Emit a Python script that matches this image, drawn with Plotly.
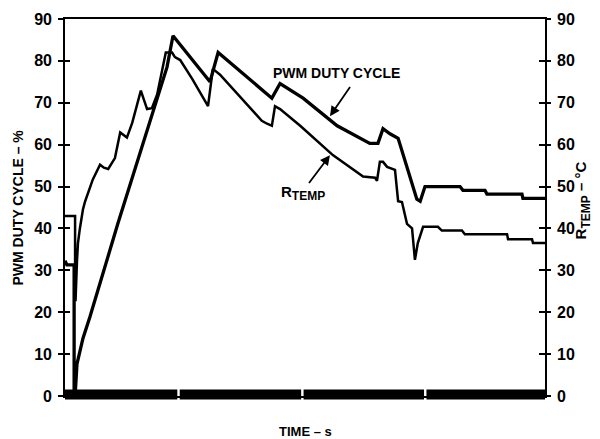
import plotly.graph_objects as go

# PWM duty cycle (%) versus time
pwm_time = [0, 0.4, 1.9, 1.9, 2.1, 2.5, 3.75, 5.2, 11.0, 21.25, 22.5, 30.2, 31.9,
            43.1, 44.8, 49.6, 56.7, 63.5, 65.2, 66.25, 67.7, 69.4, 73.3, 74.0,
            75.0, 82.3, 82.9, 87.5, 87.9, 95.2, 95.4, 100]
pwm_duty = [32.3, 31.3, 31.3, 0, 0, 7.7, 13.8, 18.9, 41.1, 78.5, 86.0, 75.0, 82.0,
            71.1, 74.6, 71.1, 64.5, 60.3, 60.3, 63.8, 62.6, 61.5, 47.0, 46.5,
            50.0, 50.0, 49.1, 49.1, 48.2, 48.2, 47.2, 47.2]

# Remote temperature (°C) versus time
rtemp_time = [0, 2.1, 2.1, 2.2, 2.5, 2.7, 3.1, 3.75, 4.2, 5.8, 7.3, 8.1, 9.0, 10.4,
              11.5, 12.9, 14.0, 15.8, 17.1, 18.1, 19.2, 20.4, 21.0, 22.3, 22.9,
              24.0, 26.5, 29.8, 30.8, 32.3, 41.0, 42.1, 43.1, 43.75, 44.8, 49.0,
              55.8, 62.1, 64.6, 65.0, 65.6, 66.25, 67.1, 68.75, 69.4, 70.2, 71.25,
              72.3, 72.9, 73.5, 74.4, 74.6, 77.7, 78.5, 82.7, 83.3, 92.1, 92.3,
              97.3, 97.5, 100]
rtemp_value = [43.0, 43.0, 22.9, 22.9, 32.3, 36.5, 40.0, 44.6, 46.5, 51.7, 55.2, 54.5,
               54.2, 56.8, 62.9, 61.7, 65.2, 72.9, 68.5, 68.7, 72.0, 78.5, 82.0,
               82.0, 80.9, 80.2, 75.7, 69.2, 78.1, 76.7, 65.7, 65.0, 64.5, 69.2,
               68.5, 64.5, 57.5, 52.4, 52.1, 51.4, 55.9, 55.9, 54.7, 54.0, 46.5,
               46.3, 41.1, 40.0, 32.5, 36.5, 39.5, 40.4, 40.4, 39.5, 39.5, 38.6,
               38.6, 37.4, 37.4, 36.5, 36.5]

# Time-base bar segments along the bottom of the plot
time_segments = [(0, 23.4), (23.9, 49.2), (49.7, 74.8), (75.3, 100)]

y_ticks = [0, 10, 20, 30, 40, 50, 60, 70, 80, 90]
y_tick_labels = [f"<span style='font-weight:900'>{v}</span>" for v in y_ticks]

FONT = "Liberation Sans"
tick_font = dict(family=FONT, size=16, color="black", weight=700)

fig = go.Figure()

fig.add_trace(go.Scatter(x=pwm_time, y=pwm_duty, mode="lines",
                         line=dict(color="black", width=3.3),
                         name="PWM DUTY CYCLE", showlegend=False))
fig.add_trace(go.Scatter(x=rtemp_time, y=rtemp_value, mode="lines",
                         line=dict(color="black", width=2.5),
                         name="RTEMP", showlegend=False, yaxis="y2"))

shapes = []
for x0, x1 in time_segments:
    shapes.append(dict(type="line", xref="x", yref="paper", x0=x0, x1=x1,
                       y0=0.004, y1=0.004, line=dict(color="black", width=10)))

axis_common = dict(range=[0, 90], tickvals=y_ticks, ticktext=y_tick_labels,
                   showgrid=False, zeroline=False, linecolor="black",
                   linewidth=1.6, tickcolor="black", tickwidth=1.6)

fig.update_layout(
    width=600, height=439,
    margin=dict(l=65, r=55, t=11, b=43),
    paper_bgcolor="white", plot_bgcolor="white",
    showlegend=False,
    xaxis=dict(range=[0, 100], showgrid=False, zeroline=False,
               showticklabels=False, ticks="", showline=True, mirror=True,
               linecolor="black", linewidth=1.6),
    yaxis=dict(**axis_common, side="left", showline=True, ticks="outside",
               ticklen=5, tickfont=tick_font, ticklabelstandoff=3),
    yaxis2=dict(**axis_common, side="right", overlaying="y", anchor="x",
                showline=True, ticks="outside", ticklen=4, tickfont=tick_font,
                ticklabelstandoff=3),
    yaxis3=dict(**axis_common, side="left", overlaying="y", anchor="x",
                showline=False, ticks="inside", ticklen=5, showticklabels=False),
    yaxis4=dict(**axis_common, side="right", overlaying="y", anchor="x",
                showline=False, ticks="inside", ticklen=6, showticklabels=False),
    shapes=shapes,
)

# invisible traces to bring the tick-only overlay axes into the figure
fig.add_trace(go.Scatter(x=[None], y=[None], yaxis="y3", showlegend=False))
fig.add_trace(go.Scatter(x=[None], y=[None], yaxis="y4", showlegend=False))

title_font = dict(family=FONT, size=14, color="black")
label_font = dict(family=FONT, size=14, color="black")
SUB = "<sub><span style='font-size:12px'>TEMP</span></sub>"

annotations = [
    dict(text="<b>PWM DUTY CYCLE – %</b>", xref="paper", yref="paper",
         x=-0.1, y=0.5, textangle=-90, showarrow=False, font=title_font,
         xanchor="center", yanchor="middle"),
    dict(text=f"<b>R{SUB} – °C</b>", xref="paper", yref="paper",
         x=1.078, y=0.52, textangle=-90, showarrow=False,
         font=dict(family=FONT, size=15, color="black"),
         xanchor="center", yanchor="middle"),
    dict(text="<b>TIME – s</b>", xref="paper", yref="paper",
         x=0.5, y=-0.095, showarrow=False, font=dict(family=FONT, size=13, color="black"),
         xanchor="center", yanchor="middle"),
    dict(text="<b>PWM DUTY CYCLE</b>", xref="x", yref="y",
         x=56.5, y=77.2, showarrow=False, font=label_font,
         xanchor="center", yanchor="middle"),
    dict(text=f"<b>R{SUB}</b>", xref="x", yref="y",
         x=49.5, y=48.5, showarrow=False, font=dict(family=FONT, size=15, color="black"),
         xanchor="center", yanchor="middle"),
    # arrows pointing at each curve
    dict(x=55.2, y=66.8, ax=59.6, ay=74.1, xref="x", yref="y", axref="x", ayref="y",
         text="", showarrow=True, arrowhead=2, arrowsize=1.1, arrowwidth=1.8,
         arrowcolor="black"),
    dict(x=55.2, y=57.5, ax=50.6, ay=50.5, xref="x", yref="y", axref="x", ayref="y",
         text="", showarrow=True, arrowhead=2, arrowsize=1.1, arrowwidth=1.8,
         arrowcolor="black"),
]
fig.update_layout(annotations=annotations)

fig.write_html("out.html")
